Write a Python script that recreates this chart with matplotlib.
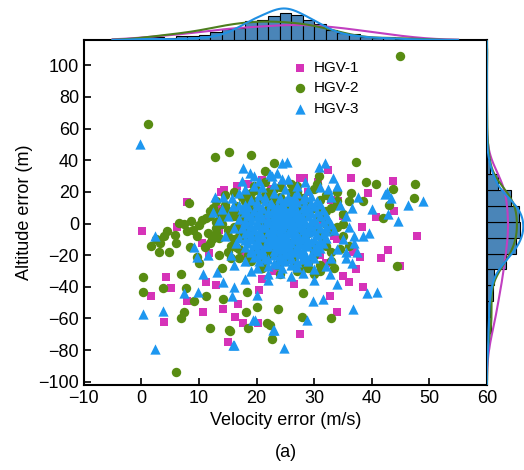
import numpy as np
import matplotlib
matplotlib.use("Agg")
import matplotlib.pyplot as plt

plt.rcParams['font.family'] = ['Liberation Sans', 'DejaVu Sans']

# HGV-1 (magenta squares)
hgv1_x = [8, 14.3, 16.6, 18.6, 21, 14.8, 32.5, 36.4, 28.2, 27.5, 30.7, 43.7, 39.3, 43.8, 47.8,
          38.3, 42.8, 41.6, 38, 36.8, 40.7, 44.9, 37.2, 36, 35, 38.5, 34, 32.7, 27.5, 0.1,
          4.2, 5.1, 1.6, 4, 7.9, 10.7, 11.2, 13, 15, 16.2, 17.6, 20.2, 14.1, 16.7, 13.1,
          13.8, 13.4, 11.7, 6.2, 10.5, 34.1, 20, 22, 25, 28, 30, 33, 18, 24, 31, 29,
          35, 34, 19, 26, 23, 21, 27, 32, 17, 22.5, 26.5, 29.5, 24.5, 31.5, 20.5, 33.5, 27,
          24, 25.5, 26, 23, 27.5, 22, 28.5, 25]
hgv1_y = [13.3, 21, 23.4, 25, 27.8, 5, 34, 28.5, 29, 29, 26, 26.6, 19.6, 8, -7.6,
          -2.5, -17, -22, -21, -18, 4.4, -26.6, -29, -36.7, -33, -40, -56, -46, -69.6, -5,
          -33.5, -41, -46, -62, -49, -56, -36.7, -38.6, -75, -59, -63, -62.6, -54, -50.6, 8.9,
          20, -4, -18.4, -2, -12, 14, -10, 5, -15, 10, -5, 15, -20, -25, -20, 20,
          5, -10, 12, 18, -30, -35, -28, -25, -3, 22, -38, -14, 24, 2, -42, -8, 16,
          2, -6, 6, -12, -1, -18, 9, -3]

# HGV-2 (green circles)
hgv2_x = [45, 1.1, 12.8, 15.2, 19, 23, 21.4, 8.2, 37.2, 30.8, 39, 40.7, 47.5, 43.7, 43,
          47.3, 41.9, 36.4, 38.5, 6.5, 1.6, 3, 3.9, 4.8, 5.8, 3.2, 7.4, 8.6, 9.6, 10,
          11.2, 12.2, 9.6, 0.3, 0.3, 3.7, 6.8, 7.7, 9.1, 7.4, 6.8, 12, 6, 11.2, 44.4,
          32.9, 27.9, 22.7, 21.8, 22.3, 18.1, 15.2, 20, 23.7, 18.3, 28, 14.1, 18.5, 15.4,
          2.5, 4.5, 6, 8, 10.5, 12, 13, 11, 13.5, 14, 15, 16, 12.5, 14.5, 16.5, 10, 14,
          18, 20, 22, 24, 26, 28, 30, 32, 25, 20, 19, 27, 33, 29, 31, 23, 17, 21, 35,
          34, 26, 24, 30, 17.5, 19.5, 21.5, 23.5, 25.5, 27.5, 29.5, 16.5, 18.5, 28.5, 31.5,
          9, 11.5, 13.5, 15.5, 8.5,
          16, 17, 18, 19, 20, 21, 22, 23, 24, 25, 26, 27, 28, 29, 30, 31, 32, 33, 34, 22,
          26, 30, 18, 17, 19, 21, 27, 31, 33, 35, 20, 23, 25, 28, 29, 24, 21, 27, 32, 34,
          16, 15, 14, 13, 16, 15, 12, 14, 13, 17,
          19.5, 21, 22.5, 24, 25.5, 27, 28.5, 30, 20, 22, 24, 26, 28, 30,
          19, 21, 23, 25, 27, 29, 31, 20.5, 23.5, 26.5, 29.5, 22, 25, 28,
          18.5, 24.5, 30.5, 21.5, 26, 23, 27, 25, 24, 26, 22, 28,
          13, 14.5, 16, 17.5, 15, 16.5, 18, 19, 20, 17, 15.5, 13.5, 12, 18.5, 21,
          33, 34.5, 35, 31, 29, 32, 36, 34, 27, 24, 21.5, 19.5, 30.5, 33.5, 36]
hgv2_y = [106, 63, 41.8, 45, 43, 38, 33, 13, 39, 30, 26, 25, 25, 22, 11.5,
          16, 3.8, 19, 14, 0.6, -14, -18, -8, -18, -7, -12, -0.6, 1.3, -8, -1,
          3.8, -10, -21, -34, -43, -40.5, -32, -40.5, -49, -56, -60, -66, -94, -46, -27,
          -59.5, -59, -73, -63, -64, -55.7, -67, -52.5, -54, -43, -44, -48, -66, -68,
          -10, -5, -12, -5, 2, 5, -3, -15, -20, 0, -8, 5, 10, 12, -15, -25, -28,
          0, 8, -5, 12, -12, 5, -15, 8, -22, -18, 15, 20, -5, -25, 15, 22, -8, -28, 0,
          12, 25, -32, -32, 3, -10, 18, -18, 2, -6, 9, -2, -24, 14, -12,
          -4, -6, 6, -22, -15,
          -2, 4, -8, 10, -14, 1, -20, 12, -4, -24, 6, -12, 16, -6, -20, 4, -14, 10, -2, 18,
          20, 22, 14, -16, -24, -28, -30, -26, -18, 6, 6, -9, -17, -1, 12, 17, -5, 8, 0, 14,
          8, -4, 4, -6, -10, -18, -12, 8, 1, -22,
          10, 6, 2, -2, -6, -10, -14, -18, 14, -8, 8, -16, 12, -4,
          4, -12, 16, -20, 0, 6, -8, -22, -26, -24, -2, 20, 12, -28,
          -4, 3, 10, 15, -14, -16, 18, 0, -10, 5, 9, -12,
          14, 18, 20, 17, 8, 11, 16, 19, 21, -4, -14, -9, 8, -20, -25,
          -24, -16, -8, -30, -28, 18, 14, 20, 24, 23, 26, 24, 25, -28, -14]

# HGV-3 (blue triangles)
hgv3_x = [-0.3, 17.6, 18.8, 19.5, 22.3, 23.5, 12.8, 14.1, 15.7, 12.4, 15.9, 24.4, 25.3, 30.8, 31.9,
          33.2, 37.6, 42.3, 43.3, 46.3, 49, 25.5, 22.7, 42.6, 44.5, 42.8, 39.5, 38.5, 37, 36.5,
          40, 37.5, 35.5, 41, 39.2, 36.7, 31.5, 29.8, 28.7, 24.7, 22.8, 15.9, 34, 32.7, 0.2,
          3.7, 2.3, 7.4, 9.8, 10.7, 9.6, 11.6, 2.3, 9.1, 16, 14.1, 15.7, 19.7, 13.1, 23,
          19.4, 16, 18, 20,
          20.5, 23, 25.5, 27, 29.5,
          19, 21.5, 24, 26, 28, 30.5,
          18, 20, 22.5, 24.5, 26.5, 28.5, 31,
          17.5, 19.5, 21, 23, 25, 27, 29, 31.5,
          18.5, 20, 22, 24, 25.5, 27.5, 29.5, 32,
          17, 19, 21, 23, 24.5, 26, 28, 30, 32.5,
          18, 20, 22, 23.5, 25, 26.5, 28.5, 30.5, 33,
          17.5, 19.5, 21.5, 23, 24.5, 26, 27.5, 29, 31, 33.5,
          18, 20, 22, 24, 25.5, 27, 29, 31.5,
          17, 19, 21, 23, 24.5, 26.5, 28, 30, 32,
          18.5, 20.5, 22.5, 24, 26, 27.5, 29.5, 31.5,
          18, 20, 22, 23.5, 25.5, 27, 29, 31,
          19, 21, 23, 25, 26.5, 28.5, 30.5,
          19.5, 21.5, 24, 26, 28, 30,
          20.5, 23, 25, 27, 29,
          22, 24.5, 27,
          23.5, 24.5, 25.5, 26.5, 24, 25, 26, 23, 24.5, 25.5, 26, 24, 22.5, 27.5, 25,
          23.5, 26.5, 24.5, 25.5, 24, 26, 25, 23, 27, 22, 28, 24.5, 25.5, 26.5, 23.5,
          21.5, 24, 26.5, 28.5,
          20, 22.5, 25, 27, 29.5,
          18.5, 21, 23.5, 26, 28, 30,
          18, 20.5, 22, 24, 26.5, 28.5, 30.5,
          19, 21, 23, 25, 27, 29, 31,
          18, 20, 22, 24, 26, 27.5, 29.5, 31.5,
          19, 21, 23, 24.5, 26, 27.5, 29.5, 32,
          18.5, 20.5, 22.5, 24, 26, 28, 30, 32,
          19, 21, 23, 25, 26.5, 28.5, 30.5,
          18, 20, 22, 24, 25.5, 27, 29, 31,
          19.5, 21.5, 23, 25, 27, 28.5, 30.5,
          19, 21, 24, 26, 28, 30,
          20.5, 23, 25.5, 27.5, 29.5,
          22, 24, 26, 28,
          23.5, 26,
          15, 16, 17, 16.5, 15.5, 17, 18, 19.5, 21, 23, 25, 27, 29, 31, 33,
          34.5, 35.5, 36, 35, 34, 33, 32, 30, 28, 26, 24, 22, 20, 18, 16,
          14.5, 13.5, 14, 17.5, 20.5, 24.5, 28.5, 32.5, 34, 36.5, 37, 35.5, 30, 22, 19]
hgv3_y = [50, 35, 32, 30, 31.6, 32, 16.5, 16.5, 16, 7, 11, 38, 38.6, 36, 38,
          29, 16.5, 18.4, 16, 11.5, 14, 28, 30, 20, 1.3, 5.7, -5.7, -8, -7.6, -24.7,
          9, -18, -18, -43, -43.7, -54, -48, -48.7, -60.8, -78.5, -67, -76.6, -38, -32, -57,
          -55, -79, -43.7, -43, -31.6, -21, -19.6, -7.6, -15, -76.6, -36.7, -46, -60.8, -30.4, -67,
          -61, -40, -35, -45,
          18, 19, 17, 19.5, 17.5,
          15, 14, 16, 14.5, 15.5, 14,
          12, 11, 12.5, 11.5, 12, 11, 12.5,
          9, 8, 9.5, 8.5, 9, 8, 9.5, 8.5,
          6, 5, 6.5, 5.5, 6, 5, 6.5, 5.5,
          3, 2, 3.5, 2.5, 3, 2, 3.5, 2.5, 3,
          0, -1, 0.5, -0.5, 0, -1, 0.5, -0.5, 0,
          -3, -4, -2.5, -3.5, -3, -4, -2.5, -3.5, -3, -4,
          -6, -7, -5.5, -6.5, -6, -7, -5.5, -6.5,
          -9, -10, -8.5, -9.5, -9, -10, -8.5, -9.5, -9,
          -12, -13, -11.5, -12.5, -12, -13, -11.5, -12.5,
          -15, -16, -14.5, -15.5, -15, -16, -14.5, -15.5,
          -18, -19, -17.5, -18.5, -18, -19, -17.5,
          -21, -22, -20.5, -21.5, -21, -22,
          -24, -25, -23.5, -24.5, -24,
          -27, -28, -27.5,
          4, -1, 2, -5, -8, -11, 7, 10, 13, -14, -2, 1, -7, -10, 5,
          -13, 4, 8, -6, -3, 10, -19, -1, 1, 3, -2, -16, 15, -8, 7,
          16.5, 16, 17, 16.5,
          13.5, 13, 14, 13.5, 13,
          10.5, 10, 11, 10.5, 10, 11,
          7.5, 7, 8, 7.5, 7, 8, 7.5,
          4.5, 4, 5, 4.5, 4, 5, 4.5,
          1.5, 1, 2, 1.5, 1, 2, 1.5, 1,
          -1.5, -2, -1, -1.5, -2, -1, -1.5, -2,
          -4.5, -5, -4, -4.5, -5, -4, -4.5, -5,
          -7.5, -8, -7, -7.5, -8, -7, -7.5,
          -10.5, -11, -10, -10.5, -11, -10, -10.5, -11,
          -13.5, -14, -13, -13.5, -14, -13, -13.5,
          -16.5, -17, -16, -16.5, -17, -16,
          -19.5, -20, -19, -19.5, -20,
          -22.5, -23, -22, -22.5,
          -25.5, -26,
          5, -3, 12, -12, -20, 19, 22, 24, 23, 25, 22, 24, 21, 23, 17,
          12, 5, -2, -10, -16, -22, -27, -29, -31, -33, -31, -32, -28, -24, -26,
          -8, 2, 9, 27, 27, 28, 26, 22, 24, 10, -12, -22, -36, -36, -30]

labels = ['HGV-1', 'HGV-2', 'HGV-3']
colors = ['#d633b8', '#588c12', '#1d97f0']
kde_colors = ['#c13fc0', '#4d7f1e', '#1f8fe3']
markers = ['s', 'o', '^']

series = [(np.array(hgv1_x), np.array(hgv1_y)),
          (np.array(hgv2_x), np.array(hgv2_y)),
          (np.array(hgv3_x), np.array(hgv3_y))]


def kde(values, grid):
    h = values.std(ddof=1) * len(values) ** (-1 / 5)
    d = (grid[:, None] - values[None, :]) / h
    return np.exp(-0.5 * d ** 2).sum(axis=1) / (len(values) * h * np.sqrt(2 * np.pi))


fig = plt.figure(figsize=(5.24, 4.70), dpi=100)
ax = fig.add_axes([0.160, 0.181, 0.769, 0.734])
ax_top = fig.add_axes([0.160, 0.915, 0.769, 0.075], sharex=ax)
ax_right = fig.add_axes([0.929, 0.181, 0.071, 0.734], sharey=ax)

sizes = [36, 46, 55]
for (x, y), lab, c, m, s in zip(series, labels, colors, markers, sizes):
    ax.scatter(x, y, s=s, marker=m, color=c, label=lab, linewidths=0)

ax.set_xlim(-10, 60)
ax.set_ylim(-102, 116)
ax.set_xticks(np.arange(-10, 61, 10))
ax.set_yticks(np.arange(-100, 101, 20))
ax.tick_params(direction='in', length=5, width=1.2, labelsize=13)
for sp in ax.spines.values():
    sp.set_linewidth(1.5)
ax.set_xlabel('Velocity error (m/s)', fontsize=13)
ax.set_ylabel('Altitude error (m)', fontsize=13)

leg = ax.legend(loc='upper left', bbox_to_anchor=(0.48, 0.98), frameon=False, fontsize=11,
                handletextpad=0.3, labelspacing=0.45, handlelength=1.2)

# marginal histograms (all series together) with per-series kde
all_x = np.concatenate([s[0] for s in series])
all_y = np.concatenate([s[1] for s in series])

xbins = np.arange(-2, 54, 2)
ax_top.hist(all_x, bins=xbins, density=True, color='#4a85b8',
            edgecolor='black', linewidth=0.8)
gx = np.linspace(-5, 55, 300)
top_max = 0
for (x, y), c in zip(series, kde_colors):
    k = kde(x, gx)
    top_max = max(top_max, k.max())
    ax_top.plot(gx, k, color=c, lw=1.5)
hx, _ = np.histogram(all_x, bins=xbins, density=True)
ax_top.set_ylim(0, max(hx.max(), top_max) * 1.12)
ax_top.axis('off')

ybins = np.arange(-99, 112, 10)
ax_right.hist(all_y, bins=ybins, density=True, orientation='horizontal',
              color='#4a85b8', edgecolor='black', linewidth=0.8)
gy = np.linspace(-105, 115, 300)
right_max = 0
for (x, y), c in zip(series, kde_colors):
    k = kde(y, gy)
    right_max = max(right_max, k.max())
    ax_right.plot(k, gy, color=c, lw=1.5)
hy, _ = np.histogram(all_y, bins=ybins, density=True)
ax_right.set_xlim(0, max(hy.max(), right_max) * 1.02)
ax_right.axis('off')

fig.text(0.545, 0.038, '(a)', ha='center', va='center', fontsize=13)

fig.savefig('out.png', dpi=100)
